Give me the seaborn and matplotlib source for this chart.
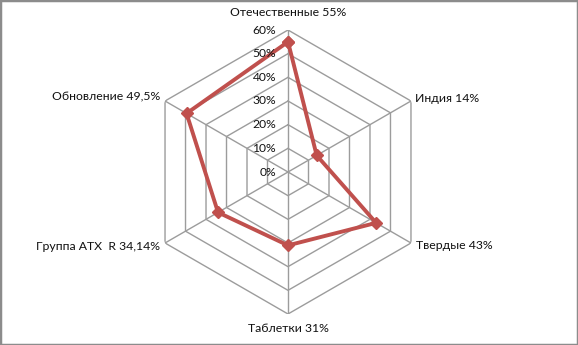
import numpy as np
import matplotlib
matplotlib.use("Agg")
import matplotlib.pyplot as plt
import matplotlib.patches as mpatches
import seaborn as sns

categories = ["Отечественные", "Индия", "Твердые", "Таблетки", "Группа ATX  R", "Обновление"]
value_labels = ["55%", "14%", "43%", "31%", "34,14%", "49,5%"]
values = [55, 14, 43, 31, 34.14, 49.5]
rings = [0, 10, 20, 30, 40, 50, 60]
ring_labels = ["0%", "10%", "20%", "30%", "40%", "50%", "60%"]

sns.set_theme(style="white")
plt.rcParams["font.family"] = ["Lato", "DejaVu Sans"]

W, H = 578, 345
fig = plt.figure(figsize=(W / 100, H / 100), dpi=100)
fig.patch.set_facecolor("white")
fig.patches.append(mpatches.Rectangle((0, 0), 1, 1, transform=fig.transFigure,
                                      fill=False, edgecolor="#8c8c8c", linewidth=2.5))

cx, cy, R = 288, 172, 142
ax = fig.add_axes([(cx - R) / W, 1 - (cy + R) / H, 2 * R / W, 2 * R / H], projection="polar")
ax.set_theta_offset(np.pi / 2)
ax.set_theta_direction(-1)
ax.set_ylim(0, 60)
ax.grid(False)
ax.spines["polar"].set_visible(False)
ax.set_xticks([])
ax.set_yticks([])
ax.patch.set_alpha(0)

n = len(categories)
angles = np.linspace(0, 2 * np.pi, n, endpoint=False)
closed = np.concatenate([angles, angles[:1]])

grid_color = "#9c9c9c"
for r in rings[1:]:
    ax.plot(closed, [r] * (n + 1), color=grid_color, lw=1.0, zorder=1)
for a in angles:
    ax.plot([a, a], [0, 60], color=grid_color, lw=1.0, zorder=1)

vals = np.array(values + values[:1])
ax.plot(closed, vals, color="#C0504D", lw=2.8, marker="D", markersize=6,
        markerfacecolor="#C0504D", markeredgecolor="#C0504D", zorder=3, clip_on=False)

for r, lab in zip(rings, ring_labels):
    ax.annotate(lab, xy=(0, r), xytext=(-12, 0), textcoords="offset pixels",
                ha="right", va="center", fontsize=8.7, color="#111111", annotation_clip=False)

offsets = [((0, 17), "center"), ((4, 3), "left"), ((5, -3), "left"),
           ((0, -15), "center"), ((-5, -3), "right"), ((-5, 4), "right")]
for a, cat, vl, (off, ha) in zip(angles, categories, value_labels, offsets):
    txt = f"{cat} {vl}"
    ax.annotate(txt, xy=(a, 60), xytext=off, textcoords="offset pixels",
                ha=ha, va="center", fontsize=8.8, color="#111111", annotation_clip=False)

fig.savefig("out.png", dpi=100)
